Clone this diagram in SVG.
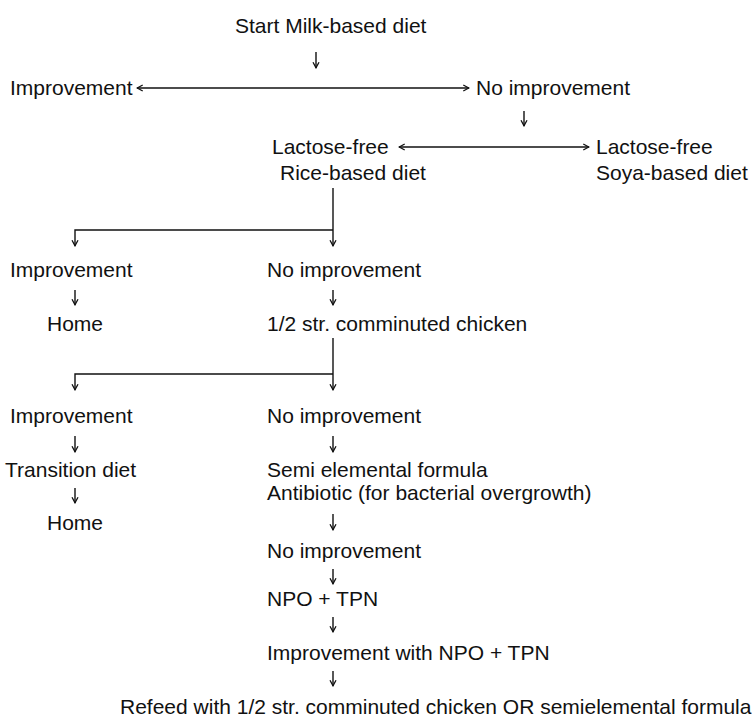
<svg xmlns="http://www.w3.org/2000/svg" width="752" height="722" viewBox="0 0 752 722">
<style>
text{font-family:"Liberation Sans",Arial,sans-serif;font-size:21px;fill:#111}
.c{fill:none;stroke:#111;stroke-width:1.4}
</style>
<defs>
<marker id="ah" viewBox="0 0 8 8" refX="7.2" refY="4" markerWidth="8" markerHeight="8" markerUnits="userSpaceOnUse" orient="auto-start-reverse">
<path d="M1.5,1 L7,4 L1.5,7" fill="none" stroke="#111" stroke-width="1.3"/>
</marker>
</defs>
<rect width="752" height="722" fill="#fff"/>
<g id="connectors" class="c">
<path d="M316,52 V68" marker-end="url(#ah)"/>
<path d="M137,88 H469" marker-start="url(#ah)" marker-end="url(#ah)"/>
<path d="M524,111 V126" marker-end="url(#ah)"/>
<path d="M399,147 H589" marker-start="url(#ah)" marker-end="url(#ah)"/>
<path d="M333,188 V246" marker-end="url(#ah)"/>
<path d="M333,230 H75 V246" marker-end="url(#ah)"/>
<path d="M75,290 V305" marker-end="url(#ah)"/>
<path d="M333,290 V305" marker-end="url(#ah)"/>
<path d="M333,338 V390" marker-end="url(#ah)"/>
<path d="M333,374 H75 V390" marker-end="url(#ah)"/>
<path d="M75,436 V452" marker-end="url(#ah)"/>
<path d="M333,436 V452" marker-end="url(#ah)"/>
<path d="M75,488 V503" marker-end="url(#ah)"/>
<path d="M333,514 V530" marker-end="url(#ah)"/>
<path d="M333,569 V584" marker-end="url(#ah)"/>
<path d="M333,617 V632" marker-end="url(#ah)"/>
<path d="M333,671 V686" marker-end="url(#ah)"/>
</g>
<g id="start"><text x="235" y="33">Start Milk-based diet</text></g>
<g id="improvement1"><text x="10" y="95">Improvement</text></g>
<g id="noimprovement1"><text x="476" y="95">No improvement</text></g>
<g id="ricediet"><text x="272" y="154">Lactose-free</text><text x="280" y="180">Rice-based diet</text></g>
<g id="soyadiet"><text x="596" y="154">Lactose-free</text><text x="596" y="180">Soya-based diet</text></g>
<g id="improvement2"><text x="10" y="277">Improvement</text></g>
<g id="noimprovement2"><text x="267" y="277">No improvement</text></g>
<g id="home1"><text x="47" y="331">Home</text></g>
<g id="chicken"><text x="267" y="331">1/2 str. comminuted chicken</text></g>
<g id="improvement3"><text x="10" y="423">Improvement</text></g>
<g id="noimprovement3"><text x="267" y="423">No improvement</text></g>
<g id="transition"><text x="5" y="477">Transition diet</text></g>
<g id="semielemental"><text x="267" y="477">Semi elemental formula</text><text x="267" y="500">Antibiotic (for bacterial overgrowth)</text></g>
<g id="home2"><text x="47" y="530">Home</text></g>
<g id="noimprovement4"><text x="267" y="558">No improvement</text></g>
<g id="npotpn"><text x="267" y="606">NPO + TPN</text></g>
<g id="improvementnpo"><text x="267" y="660">Improvement with NPO + TPN</text></g>
<g id="refeed"><text x="120" y="714">Refeed with 1/2 str. comminuted chicken OR semielemental formula</text></g>
</svg>
